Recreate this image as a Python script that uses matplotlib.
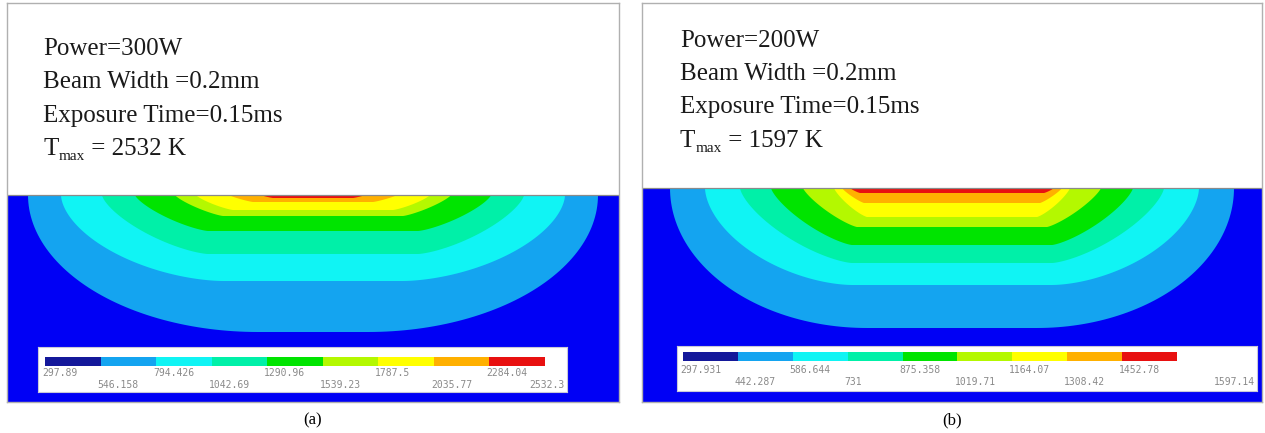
"""
Two laser-heating temperature fields (ANSYS-style contour bands) side by side.
"""

import numpy as np
import matplotlib
matplotlib.use("Agg")
import matplotlib.pyplot as plt

plt.rcParams["font.family"] = "Liberation Serif"

W, H = 1265, 433

# band colours, coolest to hottest
BAND_COLORS = ["#0000f5", "#14a4f0", "#10f4f4", "#00f0a8", "#00e400",
               "#b4f800", "#ffff00", "#ffb000", "#e81010"]
LEGEND_FIRST = "#14189a"

# contour levels [K]
LEVELS_A = [297.89, 546.158, 794.426, 1042.69, 1290.96, 1539.23,
            1787.5, 2035.77, 2284.04, 2532.3]
LEVELS_B = [297.931, 442.287, 586.644, 731, 875.358, 1019.71,
            1164.07, 1308.42, 1452.78, 1597.14]

# isotherm extents (picture units), levels 1..8
HALF_WIDTH_A = [285, 252, 211, 178, 138, 117, 84, 52]
FLAT_A = [55, 90, 105, 105, 90, 80, 60, 40]
DEPTH_A = [137, 86, 59, 36, 21, 15, 7, 3]

HALF_WIDTH_B = [282, 247, 212, 181, 149, 118, 110, 102]
FLAT_B = [85, 100, 100, 100, 95, 85, 88, 92]
DEPTH_B = [140, 97, 75, 57, 39, 29, 15, 5]

# side bend of each isotherm: 1 = rounded, 2 = straight
BEND = [1.0, 1.15, 1.4, 1.5, 1.6, 1.6, 1.7, 1.7]

TEXT_A = ["Power=300W", "Beam Width =0.2mm", "Exposure Time=0.15ms"]
TEXT_B = ["Power=200W", "Beam Width =0.2mm", "Exposure Time=0.15ms"]
TMAX_A = "2532 K"
TMAX_B = "1597 K"

PANELS = [
    dict(name="(a)", left=7, right=619, top=3, surface=195, bottom=402,
         half=HALF_WIDTH_A, flat=FLAT_A, depth=DEPTH_A, levels=LEVELS_A,
         text=TEXT_A, tmax=TMAX_A, text_x=43, text_y=[55, 88, 122, 155],
         box=(38, 567, 347, 392), bar=(45, 545, 357, 366), rows=(373, 385)),
    dict(name="(b)", left=642, right=1262, top=3, surface=188, bottom=402,
         half=HALF_WIDTH_B, flat=FLAT_B, depth=DEPTH_B, levels=LEVELS_B,
         text=TEXT_B, tmax=TMAX_B, text_x=680, text_y=[47, 80, 113, 147],
         box=(677, 1257, 346, 391), bar=(683, 1177, 352, 361), rows=(370, 382)),
]


def px_axes(fig, left, right, top, bottom):
    return fig.add_axes([left / W, 1 - bottom / H, (right - left) / W,
                         (bottom - top) / H])


def isotherm(a, c, b, q, n=60):
    t = np.linspace(0, np.pi / 2, n)
    xl = -(c + (a - c) * np.cos(t) ** q)
    yl = -b * np.sin(t) ** q
    return (np.concatenate([xl, -xl[::-1]]),
            np.concatenate([yl, yl[::-1]]))


def draw_panel(fig, p):
    ax = px_axes(fig, p["left"], p["right"], p["top"], p["bottom"])
    half_w = (p["right"] - p["left"]) / 2
    ax.set_xlim(-half_w, half_w)
    ax.set_ylim(-(p["bottom"] - p["surface"]), p["surface"] - p["top"])
    ax.set_xticks([])
    ax.set_yticks([])
    for s in ax.spines.values():
        s.set_color("#b0b0b0")
        s.set_linewidth(1.0)

    ax.axhspan(ax.get_ylim()[0], 0, color=BAND_COLORS[0], lw=0)
    for k, (a, c, b) in enumerate(zip(p["half"], p["flat"], p["depth"])):
        x, y = isotherm(a, c, b, BEND[k])
        ax.fill(x, y, color=BAND_COLORS[k + 1], lw=0)
    ax.axhline(0, color="#8a8a8a", lw=0.9)

    fs = 18
    for txt, ty in zip(p["text"], p["text_y"]):
        fig.text(p["text_x"] / W, 1 - ty / H, txt, fontsize=fs,
                 ha="left", va="baseline", color="#1a1a1a")
    # T_max line built from pieces so the subscript sits low and small
    t1 = fig.text(p["text_x"] / W, 1 - p["text_y"][3] / H, "T", fontsize=fs,
                  ha="left", va="baseline", color="#1a1a1a")
    t2 = ax.annotate("max", xy=(1, 0), xycoords=t1, xytext=(0.5, 0),
                     textcoords="offset points", fontsize=11, ha="left",
                     va="baseline", color="#1a1a1a", annotation_clip=False)
    ax.annotate(" = " + p["tmax"], xy=(1, 0), xycoords=(t2, t1),
                fontsize=fs, ha="left", va="bottom", color="#1a1a1a",
                annotation_clip=False)

    # legend strip
    bx0, bx1, by0, by1 = p["box"]
    lx0, lx1, ly0, ly1 = p["bar"]
    lev = p["levels"]
    scale = (lev[-1] - lev[0]) / (lx1 - lx0)
    lax = px_axes(fig, bx0, bx1, by0, by1)
    lax.set_xlim(lev[0] - (lx0 - bx0) * scale, lev[-1] + (bx1 - lx1) * scale)
    lax.set_ylim(by1, by0)
    lax.set_xticks([])
    lax.set_yticks([])
    lax.set_facecolor("white")
    for s in lax.spines.values():
        s.set_color("#c8c8d8")
        s.set_linewidth(0.8)
    colors = [LEGEND_FIRST] + BAND_COLORS[1:]
    lax.bar(lev[:-1], ly1 - ly0, width=np.diff(lev), bottom=ly0,
            align="edge", color=colors, lw=0)
    for k, v in enumerate(lev):
        last = k == len(lev) - 1
        xpos = lax.get_xlim()[1] - 2 * scale if last else v - 3 * scale
        lax.text(xpos, p["rows"][k % 2], f"{v:g}",
                 ha="right" if last else "left", va="center", fontsize=7,
                 family="DejaVu Sans Mono", color="#8a8a8a")

    fig.text((p["left"] + p["right"]) / 2 / W, 1 - 420 / H, p["name"],
             fontsize=12, ha="center", va="center")


def main():
    fig = plt.figure(figsize=(W / 100, H / 100), dpi=100)
    for p in PANELS:
        draw_panel(fig, p)
    fig.savefig("out.png", dpi=100)


if __name__ == "__main__":
    main()
